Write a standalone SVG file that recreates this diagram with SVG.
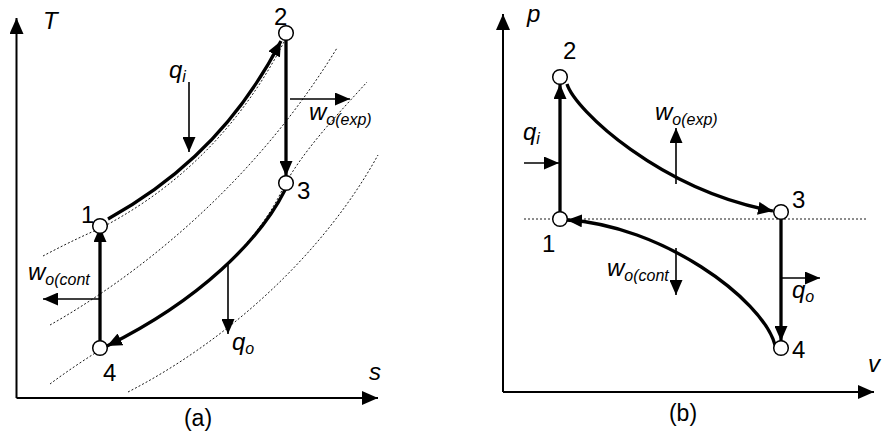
<svg xmlns="http://www.w3.org/2000/svg" width="882" height="434" viewBox="0 0 882 434">
<style>
text{font-family:"Liberation Sans",Arial,sans-serif;fill:#000}
.v{font-style:italic;font-size:24px}
.n{font-size:24px}
.cap{font-size:23px}
.sub{font-size:16px}
.axis{stroke:#000;stroke-width:2;fill:none}
.thick{stroke:#000;stroke-width:3.3;fill:none}
.thin{stroke:#000;stroke-width:1.6;fill:none}
.dot{stroke:#000;stroke-width:0.9;fill:none;stroke-dasharray:2 2}
.node{fill:#fff;stroke:#000;stroke-width:1.5}
</style>
<defs>
<marker id="ax" viewBox="0 0 16 14" refX="16" refY="7" markerWidth="16" markerHeight="14" markerUnits="userSpaceOnUse" orient="auto"><path d="M0,0 L16,7 L0,14 z" fill="#000"/></marker>
<marker id="ah" viewBox="0 0 15 13" refX="15" refY="6.5" markerWidth="15" markerHeight="13" markerUnits="userSpaceOnUse" orient="auto"><path d="M0,0 L15,6.5 L0,13 z" fill="#000"/></marker>
</defs>
<g id="axes-a">
<path class="axis" d="M16.5,398 L16.5,18" marker-end="url(#ax)"/>
<path class="axis" d="M16.5,398 L378,398" marker-end="url(#ax)"/>
</g>
<g id="isobars-a">
<path class="dot" d="M43,256 C60,247 80,237 101,228 C158,198 232,145 286,38"/>
<path class="dot" d="M50,325 C130,280 250,190 337,48"/>
<path class="dot" d="M50,384 C66,372 84,360 100,350 C196,302 258,244 284,186 C305,148 340,112 367,82"/>
<path class="dot" d="M128,392 C220,345 320,260 378,155"/>
</g>
<g id="connectors">
<path class="thick" d="M108,219 C160,190 230,140 281,41" marker-end="url(#ah)"/>
<path class="thick" d="M286,40 L286,176" marker-end="url(#ah)"/>
<path class="thick" d="M285,190 C260,240 200,300 107,346" marker-end="url(#ah)"/>
<path class="thick" d="M100,341 L100,227" marker-end="url(#ah)"/>
<path class="thin" d="M189,82 L189,152" marker-end="url(#ah)"/>
<path class="thin" d="M290,99 L350,99" marker-end="url(#ah)"/>
<path class="thin" d="M99,299 L43,299" marker-end="url(#ah)"/>
<path class="thin" d="M228,265 L228,334" marker-end="url(#ah)"/>
<path class="thick" d="M560,212 L560,84" marker-end="url(#ah)"/>
<path class="thick" d="M567,84 C575,110 660,190 773,211" marker-end="url(#ah)"/>
<path class="thick" d="M781,219 L781,341" marker-end="url(#ah)"/>
<path class="thick" d="M775,345 C762,298 660,225 567,220" marker-end="url(#ah)"/>
<path class="thin" d="M524,163 L559,163" marker-end="url(#ah)"/>
<path class="thin" d="M676,184 L676,128" marker-end="url(#ah)"/>
<path class="thin" d="M676,248 L676,295" marker-end="url(#ah)"/>
<path class="thin" d="M781,278 L820,278" marker-end="url(#ah)"/>
</g>
<g id="axes-b">
<path class="axis" d="M503,392 L503,14" marker-end="url(#ax)"/>
<path class="axis" d="M503,392 L874,392" marker-end="url(#ax)"/>
<path class="dot" d="M524,219 L868,219"/>
</g>
<g id="a-node1"><circle class="node" cx="100" cy="226" r="7.3"/><text class="n" x="81" y="223">1</text></g>
<g id="a-node2"><circle class="node" cx="286" cy="33" r="7.3"/><text class="n" x="274" y="25">2</text></g>
<g id="a-node3"><circle class="node" cx="286" cy="183" r="7.3"/><text class="n" x="297" y="199">3</text></g>
<g id="a-node4"><circle class="node" cx="100" cy="348" r="7.3"/><text class="n" x="103" y="381">4</text></g>
<g id="b-node1"><circle class="node" cx="560" cy="219" r="7.3"/><text class="n" x="542" y="252">1</text></g>
<g id="b-node2"><circle class="node" cx="560" cy="77" r="7.3"/><text class="n" x="563" y="59">2</text></g>
<g id="b-node3"><circle class="node" cx="781" cy="212" r="7.3"/><text class="n" x="792" y="208">3</text></g>
<g id="b-node4"><circle class="node" cx="781" cy="348" r="7.3"/><text class="n" x="792" y="358">4</text></g>
<g id="labels">
<text class="v" x="43" y="29">T</text>
<text class="v" x="369" y="380">s</text>
<text class="v" x="169" y="78">q<tspan class="sub" dy="4">i</tspan></text>
<text class="v" x="309" y="120">w<tspan class="sub" dy="5">o(exp)</tspan></text>
<text class="v" x="28" y="280">w<tspan class="sub" dy="5">o(cont</tspan></text>
<text class="v" x="232" y="350">q<tspan class="sub" dy="4">o</tspan></text>
<text class="cap" x="198" y="426" text-anchor="middle">(a)</text>
<text class="v" x="527" y="22">p</text>
<text class="v" x="868" y="372">v</text>
<text class="v" x="523" y="140">q<tspan class="sub" dy="4">i</tspan></text>
<text class="v" x="655" y="120">w<tspan class="sub" dy="5">o(exp)</tspan></text>
<text class="v" x="607" y="276">w<tspan class="sub" dy="5">o(cont</tspan></text>
<text class="v" x="792" y="298">q<tspan class="sub" dy="4">o</tspan></text>
<text class="cap" x="683" y="421" text-anchor="middle">(b)</text>
</g>
</svg>
